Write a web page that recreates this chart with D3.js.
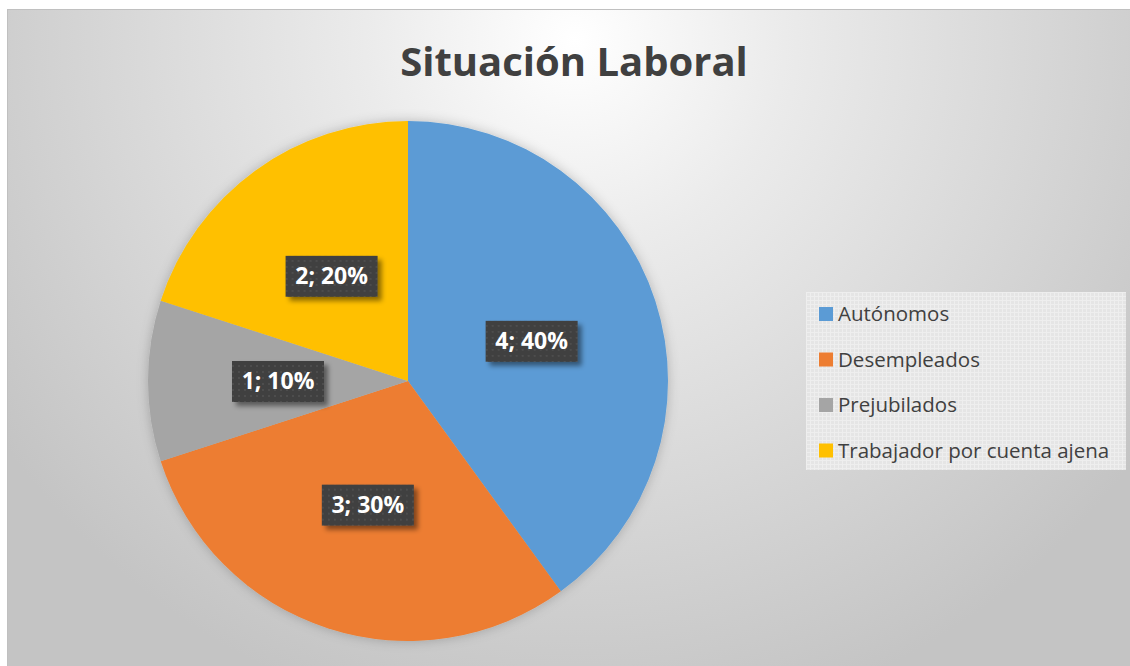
<!DOCTYPE html>
<html>
<head>
<meta charset="utf-8">
<script src="https://cdn.jsdelivr.net/npm/d3@7"></script>
<style>
  body { margin: 0; background: #fff; }
  svg { display: block; }
</style>
</head>
<body>
<svg id="canvas"></svg>
<script>
let categories = ['Autónomos', 'Desempleados', 'Prejubilados', 'Trabajador por cuenta ajena'];
let values = [4, 3, 1, 2];
let colors = ['#5B9BD5', '#ED7D31', '#A5A5A5', '#FFC000'];
let title = 'Situación Laboral';

let w = 1130;
let h = 666;
let cx = 408, cy = 381, r = 260;

let canvas = d3.select('#canvas').attr('width', w).attr('height', h);
let defs = canvas.append('defs');

// background gradient
let bg = defs.append('radialGradient')
  .attr('id', 'bg')
  .attr('gradientUnits', 'userSpaceOnUse')
  .attr('cx', 575).attr('cy', 40).attr('r', 700);
bg.append('stop').attr('offset', '0').attr('stop-color', '#ffffff');
bg.append('stop').attr('offset', '0.3').attr('stop-color', '#ebebeb');
bg.append('stop').attr('offset', '1').attr('stop-color', '#c4c4c4');

// dotted pattern for labels
let dots = defs.append('pattern')
  .attr('id', 'dots').attr('patternUnits', 'userSpaceOnUse')
  .attr('width', 6).attr('height', 6);
dots.append('rect').attr('width', 6).attr('height', 6).attr('fill', '#3f3f3f');
dots.append('rect').attr('x', 2).attr('y', 2).attr('width', 2).attr('height', 2).attr('fill', '#4d4d4d');

// grid pattern for legend
let grid = defs.append('pattern')
  .attr('id', 'grid').attr('patternUnits', 'userSpaceOnUse')
  .attr('width', 4).attr('height', 4);
grid.append('rect').attr('width', 4).attr('height', 4).attr('fill', '#e5e5e5');
grid.append('rect').attr('width', 4).attr('height', 1).attr('fill', '#eeeeee');
grid.append('rect').attr('width', 1).attr('height', 4).attr('fill', '#eeeeee');

let pieShadow = defs.append('filter').attr('id', 'pieShadow')
  .attr('x', '-20%').attr('y', '-20%').attr('width', '140%').attr('height', '140%');
pieShadow.append('feDropShadow').attr('dx', 0).attr('dy', 0)
  .attr('stdDeviation', 6).attr('flood-color', '#000').attr('flood-opacity', 0.22);

let boxShadow = defs.append('filter').attr('id', 'boxShadow')
  .attr('x', '-20%').attr('y', '-20%').attr('width', '150%').attr('height', '160%');
boxShadow.append('feDropShadow').attr('dx', 4).attr('dy', 4)
  .attr('stdDeviation', 2.5).attr('flood-color', '#000').attr('flood-opacity', 0.45);

// chart area
canvas.append('rect')
  .attr('x', 7).attr('y', 9).attr('width', w - 7).attr('height', h - 9)
  .attr('fill', 'url(#bg)');
canvas.append('line')
  .attr('x1', 7).attr('x2', w).attr('y1', 9.5).attr('y2', 9.5)
  .attr('stroke', '#c0c0c0');
canvas.append('line')
  .attr('x1', 7.5).attr('x2', 7.5).attr('y1', 9).attr('y2', h)
  .attr('stroke', '#c0c0c0');

canvas.append('text')
  .attr('x', 574).attr('y', 76)
  .attr('text-anchor', 'middle')
  .attr('font-family', 'Open Sans, sans-serif')
  .attr('font-weight', 'bold')
  .attr('font-size', 40)
  .attr('fill', '#404040')
  .text(title);

// pie
let pie = d3.pie().sort(null).value(d => d)(values);
let arc = d3.arc().innerRadius(0).outerRadius(r);

let g = canvas.append('g').attr('transform', 'translate(' + cx + ',' + cy + ')');
g.append('g').attr('filter', 'url(#pieShadow)')
  .selectAll('path')
  .data(pie)
  .enter()
  .append('path')
  .attr('d', arc)
  .attr('fill', (d, i) => colors[i]);

let total = d3.sum(values);
let labels = g.selectAll('.lbl')
  .data(pie)
  .enter()
  .append('g')
  .attr('class', 'lbl')
  .attr('transform', d => 'translate(' + arc.centroid(d) + ')');

labels.append('rect')
  .attr('x', -46).attr('y', -20).attr('width', 92).attr('height', 41)
  .attr('fill', 'url(#dots)')
  .attr('filter', 'url(#boxShadow)');

labels.append('text')
  .attr('text-anchor', 'middle')
  .attr('dy', '0.36em')
  .attr('font-family', 'Open Sans, sans-serif')
  .attr('font-weight', 'bold')
  .attr('font-size', 23)
  .attr('fill', '#ffffff')
  .text(d => d.data + '; ' + Math.round(d.data / total * 100) + '%');

// legend
let legend = canvas.append('g').attr('transform', 'translate(806, 292)');
legend.append('rect')
  .attr('width', 320).attr('height', 178)
  .attr('fill', 'url(#grid)');

let items = legend.selectAll('.item')
  .data(categories)
  .enter()
  .append('g')
  .attr('class', 'item')
  .attr('transform', (d, i) => 'translate(13,' + (22 + i * 45.5) + ')');

items.append('rect')
  .attr('x', 0).attr('y', -7).attr('width', 14).attr('height', 14)
  .attr('fill', (d, i) => colors[i]);

items.append('text')
  .attr('x', 19)
  .attr('dy', '0.36em')
  .attr('font-family', 'Open Sans, sans-serif')
  .attr('font-size', 20.5)
  .attr('fill', '#404040')
  .text(d => d);
</script>
</body>
</html>
